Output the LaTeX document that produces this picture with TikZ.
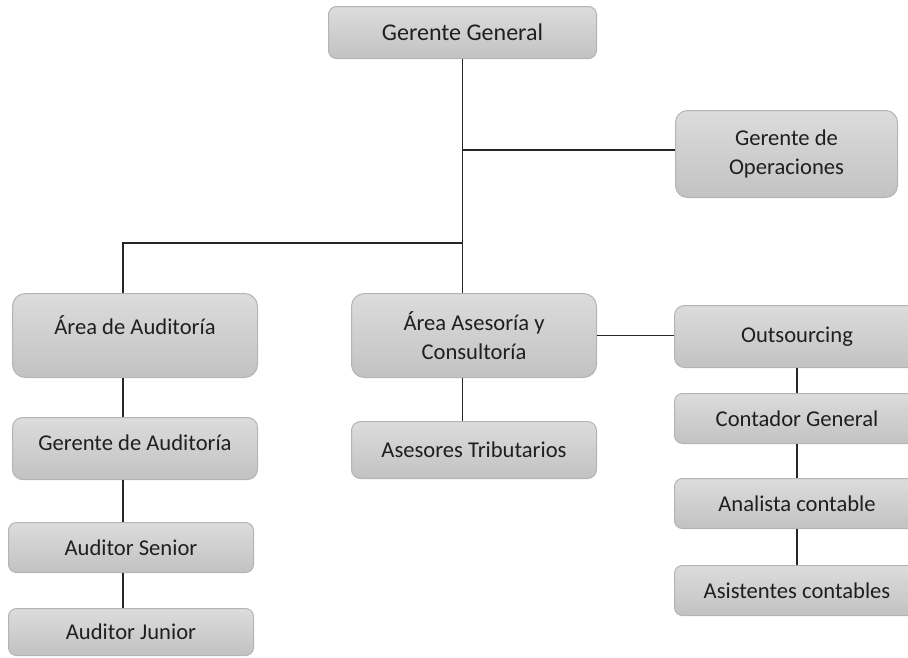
\documentclass[tikz,border=0pt]{standalone}
\usepackage{fontspec}
\setmainfont{Carlito}
\usepackage{xcolor}
\usepackage{tikz}
\definecolor{boxTop}{HTML}{DCDCDC}
\definecolor{boxBottom}{HTML}{C2C2C2}
\definecolor{boxBorder}{HTML}{B4B4B4}
\definecolor{lineDark}{HTML}{262626}
\begin{document}
\begin{tikzpicture}[x=1pt,y=-1pt]
        \tikzstyle{every node}=[font=\fontsize{22.6}{29}\selectfont,text=black!88]
        \tikzset{box/.style = {shape=rectangle,draw=boxBorder,line width=1pt,
            top color=boxTop,bottom color=boxBottom,rounded corners=8pt,
            anchor=north west,inner sep=0pt,minimum width=245pt,align=center}}
        \tikzset{edge/.style = {draw=lineDark,line width=1.4pt}}
        \useasboundingbox (0,0) rectangle (908,657);
        \clip (0,0) rectangle (908,657);
        % boxes
        \node[box,minimum width=268pt,minimum height=52pt,font=\fontsize{24}{29}\selectfont] (gg) at (328,6) {Gerente General};
        \node[box,minimum width=222pt,minimum height=87pt,rounded corners=12pt] (gop) at (675,110) {Gerente de\\Operaciones};
        \node[box,minimum height=84pt,rounded corners=13pt,text depth=20pt] (aud) at (12,293) {Área de Auditoría};
        \node[box,minimum height=84pt,rounded corners=13pt] (ase) at (351,293) {Área Asesoría y\\Consultoría};
        \node[box,minimum height=62pt,rounded corners=10pt] (out) at (674,305) {Outsourcing};
        \node[box,minimum height=62pt,rounded corners=10pt,text depth=12pt] (gaud) at (12,417) {Gerente de Auditoría};
        \node[box,minimum height=57pt,rounded corners=9pt] (trib) at (351,421) {Asesores Tributarios};
        \node[box,minimum height=50pt] (cont) at (674,393) {Contador General};
        \node[box,minimum height=50pt] (anal) at (674,478) {Analista contable};
        \node[box,minimum height=50pt] (asis) at (674,565) {Asistentes contables};
        \node[box,minimum height=50pt] (sen) at (8,522) {Auditor Senior};
        \node[box,minimum height=47pt] (jun) at (8,608) {Auditor Junior};
        \coordinate (split) at (123,243);
        \coordinate (opsplit) at (463,150);
        % lines
        \draw[edge] (gg.south) to (gg.south |- ase.north);
        \draw[edge] (opsplit -| gg.south) to (opsplit -| gop.west);
        \draw[edge] (split -| gg.south) to (split) to (split |- aud.north);
        \draw[edge] (ase.east) to (ase.east -| out.west);
        \draw[edge] (ase.south -| gg.south) to (trib.north -| gg.south);
        \draw[edge] (split |- aud.south) to (split |- gaud.north);
        \draw[edge] (split |- gaud.south) to (split |- sen.north);
        \draw[edge] (split |- sen.south) to (split |- jun.north);
        \draw[edge] (out.south) to (cont.north);
        \draw[edge] (cont.south) to (anal.north);
        \draw[edge] (anal.south) to (asis.north);
      \end{tikzpicture}
\end{document}
